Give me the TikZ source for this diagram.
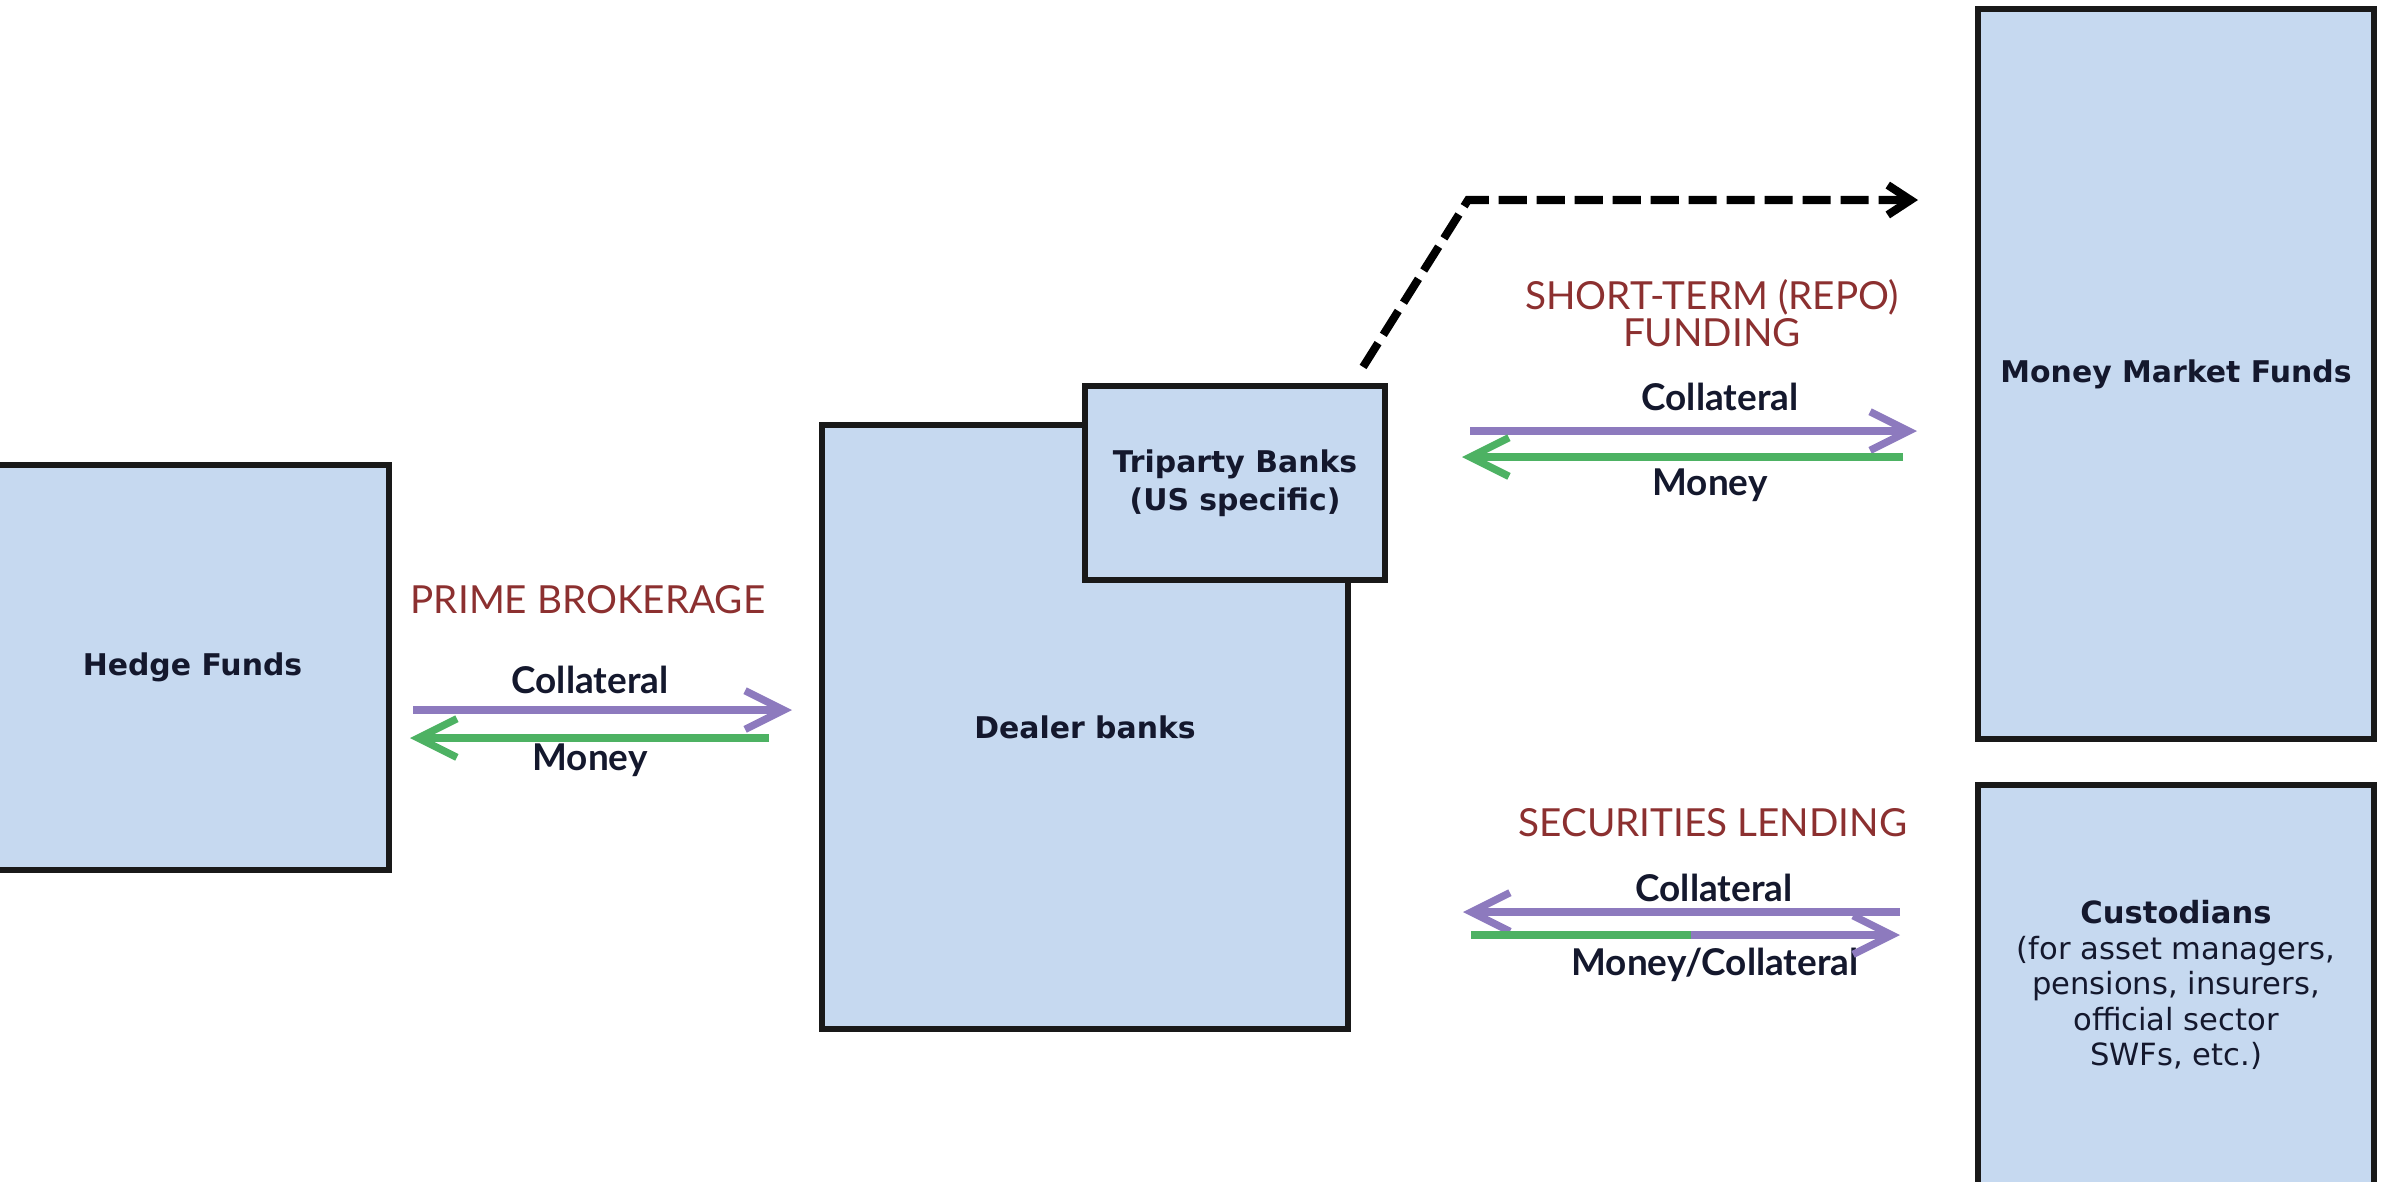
\documentclass[tikz,border=0pt]{standalone}
\usepackage{fontspec}
\setmainfont{Lato}
\newfontfamily\boxfamily{DejaVu Sans}
\usetikzlibrary{arrows.meta,positioning,calc}

\definecolor{boxblue}{RGB}{198,217,240}
\definecolor{inkblue}{RGB}{20,24,45}
\definecolor{headred}{RGB}{140,48,48}
\definecolor{arrowpurple}{RGB}{141,122,190}
\definecolor{arrowgreen}{RGB}{77,178,99}

\begin{document}
\begin{tikzpicture}[x=0.01cm, y=-0.01cm,
		market/.style={rectangle, draw=black!90, line width=1.7pt, fill=boxblue, inner sep=0pt, align=center, text=inkblue, font=\boxfamily\bfseries\fontsize{8.5}{10.8}\selectfont},
		heading/.style={text=headred, align=center, font=\fontsize{11}{9.5}\selectfont},
		flowtext/.style={text=inkblue, font=\bfseries\fontsize{10.5}{12}\selectfont},
		collat/.style={draw=arrowpurple, line width=2.1pt, -{Straight Barb[length=11pt,width=11pt]}},
		cash/.style={draw=arrowgreen, line width=2.1pt, -{Straight Barb[length=11pt,width=11pt]}},
		repoline/.style={draw=black, line width=2.3pt, dash pattern=on 8pt off 2.8pt, -{Straight Barb[length=6.5pt,width=8.5pt]}}
	]
	\clip (0,0) rectangle (2384,1181);

	% Boxes
	\node[market, minimum width=3.93cm, minimum height=4.05cm] (hedge) at (192.5,667.5) {Hedge Funds};
	\node[market, minimum width=5.26cm, minimum height=6.04cm] (dealer) at (1085,727) {Dealer banks};
	\node[market, minimum width=3.00cm, minimum height=1.94cm] (tri) at (1235,483) {Triparty Banks\\(US specific)};
	\node[market, minimum width=3.96cm, minimum height=7.30cm] (mmf) at (2176,374) {Money Market Funds};
	\node[market, minimum width=3.96cm, minimum height=4.00cm, font=\boxfamily\fontsize{8.7}{10.1}\selectfont] (cust) at (2176,985) {\textbf{Custodians}\\(for asset managers,\\pensions, insurers,\\official sector\\SWFs, etc.)};

	% Prime brokerage
	\node[heading] (pbtag) at (588,600) {PRIME BROKERAGE};
	\node[flowtext] (pbcoll) at (590,680) {Collateral};
	\node[flowtext] (pbmoney) at (590,760) {Money};
	\coordinate (pbc0) at (413,710);
	\coordinate (pbc1) at (792,710);
	\coordinate (pbm0) at (769,738);
	\coordinate (pbm1) at (410,738);
	\draw[collat] (pbc0) -- (pbc1);
	\draw[cash] (pbm0) -- (pbm1);

	% Repo funding
	\node[heading] (repotag) at (1712,313) {SHORT-TERM (REPO)\\FUNDING};
	\node[flowtext] (repocoll) at (1720,397) {Collateral};
	\node[flowtext] (repomoney) at (1710,485) {Money};
	\coordinate (rc0) at (1470,431);
	\coordinate (rc1) at (1917,431);
	\coordinate (rm0) at (1903,457);
	\coordinate (rm1) at (1462,457);
	\draw[collat] (rc0) -- (rc1);
	\draw[cash] (rm0) -- (rm1);

	% Securities lending
	\node[heading] (sectag) at (1713,823) {SECURITIES LENDING};
	\node[flowtext] (seccoll) at (1714,888) {Collateral};
	\node[flowtext] (secmoney) at (1715,965) {Money/Collateral};
	\coordinate (sc0) at (1900,912);
	\coordinate (sc1) at (1463,912);
	\coordinate (sm0) at (1471,935);
	\coordinate (smid) at (1691,935);
	\coordinate (sm1) at (1900,935);
	\draw[collat] (sc0) -- (sc1);
	\draw[draw=arrowgreen, line width=2.1pt] (sm0) -- (smid);
	\draw[collat] (smid) -- (sm1);

	% Triparty link
	\coordinate (dashfoot) at ($(tri.north east)+(-25,-16)$);
	\coordinate (dashbend) at (1468,200);
	\coordinate (dashend) at (1918,200);
	\draw[repoline] (dashfoot) -- (dashbend) -- (dashend);
\end{tikzpicture}
\end{document}
